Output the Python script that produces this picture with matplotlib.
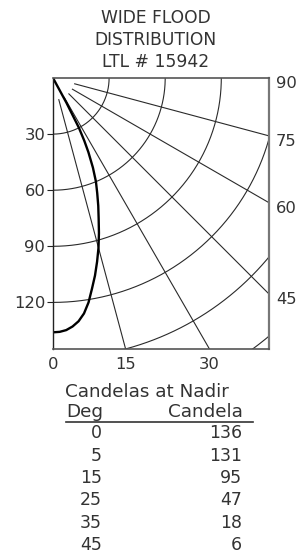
import matplotlib
matplotlib.use("Agg")
import matplotlib.pyplot as plt
import numpy as np
from matplotlib.lines import Line2D
from matplotlib.transforms import ScaledTranslation

title_lines = ["WIDE FLOOD", "DISTRIBUTION", "LTL # 15942"]

# candela curve as drawn on the chart (deg from nadir, candela)
curve_deg = [0, 1.5, 3, 4.5, 6, 7.5, 9, 10.5, 12, 13.5, 15, 16.5, 18, 19.5, 21,
             22.5, 24, 25.5, 26.5, 27.5, 28.5, 29.5]
curve_cd = [136, 135.8, 135, 133.3, 130.8, 127, 121.5, 114.5, 108, 101, 94, 86.5,
            79, 72.5, 66, 60, 52.5, 44, 37.5, 30, 15, 0]

arc_cd = [30, 60, 90, 120, 150, 180]
ray_deg = [15, 30, 45, 60, 75]
left_cd = [30, 60, 90, 120]
right_deg = [90, 75, 60, 45]
bottom_deg = [0, 15, 30]

table_deg = [0, 5, 15, 25, 35, 45]
table_cd = [136, 131, 95, 47, 18, 6]

W, H = 307, 555
plt.rcParams["font.family"] = ["DejaVu Sans"]
fig = plt.figure(figsize=(W / 100, H / 100), dpi=100)


def fx(x):
    return x / W


def fy(y):
    return 1 - y / H


# plot box in pixels
x0, y0, x1, y1 = 53, 78, 269, 348.5
scale = 1.87  # px per candela
ax = fig.add_axes([fx(x0), fy(y1), (x1 - x0) / W, (y1 - y0) / H])
xmax = (x1 - x0) / scale
ymax = (y1 - y0) / scale
ax.set_xlim(0, xmax)
ax.set_ylim(-ymax, 0)

grid_col = "#2a2a2a"
t = np.radians(np.linspace(0, 90, 300))
for r in arc_cd:
    ax.plot(r * np.sin(t), -r * np.cos(t), color=grid_col, lw=0.8)
for a in ray_deg:
    ar = np.radians(a)
    ax.plot([12 * np.sin(ar), 400 * np.sin(ar)], [-12 * np.cos(ar), -400 * np.cos(ar)],
            color=grid_col, lw=0.8)

th = np.radians(curve_deg)
cd = np.array(curve_cd)
ax.plot(cd * np.sin(th), -cd * np.cos(th), color="black", lw=1.7,
        solid_capstyle="round", solid_joinstyle="round")

# left: candela arcs
ax.set_yticks([-v for v in left_cd])
ax.set_yticklabels([str(v) for v in left_cd])
ax.tick_params(axis="y", direction="out", length=4, width=0.8, pad=1.5,
               labelsize=11.8, color="#222222", labelcolor="#333333")
# bottom: angles
ax.set_xticks([ymax * np.tan(np.radians(a)) for a in bottom_deg])
ax.set_xticklabels([str(a) for a in bottom_deg])
ax.tick_params(axis="x", length=0, pad=6, labelsize=11.8, labelcolor="#333333")

# right: angles
ax2 = ax.twinx()
ax2.set_ylim(-ymax, 0)
ax2.set_yticks([-xmax * np.cos(np.radians(a)) / np.sin(np.radians(a)) for a in right_deg])
ax2.set_yticklabels([str(a) for a in right_deg])
ax2.tick_params(axis="y", length=0, pad=5, labelsize=11.8, labelcolor="#333333")
off = ScaledTranslation(0, -4 / 100, fig.dpi_scale_trans)
for lab in ax2.get_yticklabels():
    lab.set_transform(lab.get_transform() + off)
for s in ax2.spines.values():
    s.set_visible(False)

ax.spines["left"].set_color("#222222")
ax.spines["left"].set_linewidth(1.0)
ax.spines["top"].set_color("#555555")
ax.spines["top"].set_linewidth(1.2)
ax.spines["bottom"].set_color("#555555")
ax.spines["bottom"].set_linewidth(1.2)
ax.spines["right"].set_color("#777777")
ax.spines["right"].set_linewidth(1.6)

# title
for i, line in enumerate(title_lines):
    fig.text(fx(155.5), fy(22.7 + 22 * i), line, ha="center", va="baseline",
             fontsize=12.3, color="#333333")

# table
fig.text(fx(65), fy(396.7), "Candelas at Nadir", ha="left", va="baseline",
         fontsize=13.2, color="#333333")
fig.text(fx(66), fy(416.7), "Deg", ha="left", va="baseline", fontsize=13.2, color="#333333")
fig.text(fx(243), fy(416.7), "Candela", ha="right", va="baseline", fontsize=13.2,
         color="#333333")
fig.add_artist(Line2D([fx(66), fx(253)], [fy(422), fy(422)], color="#333333", lw=1.2))
for i, (d, c) in enumerate(zip(table_deg, table_cd)):
    yb = 438.3 + 22.3 * i
    fig.text(fx(102), fy(yb), str(d), ha="right", va="baseline", fontsize=12.5, color="#333333")
    fig.text(fx(242), fy(yb), str(c), ha="right", va="baseline", fontsize=12.5, color="#333333")

fig.savefig("out.png", dpi=100)
